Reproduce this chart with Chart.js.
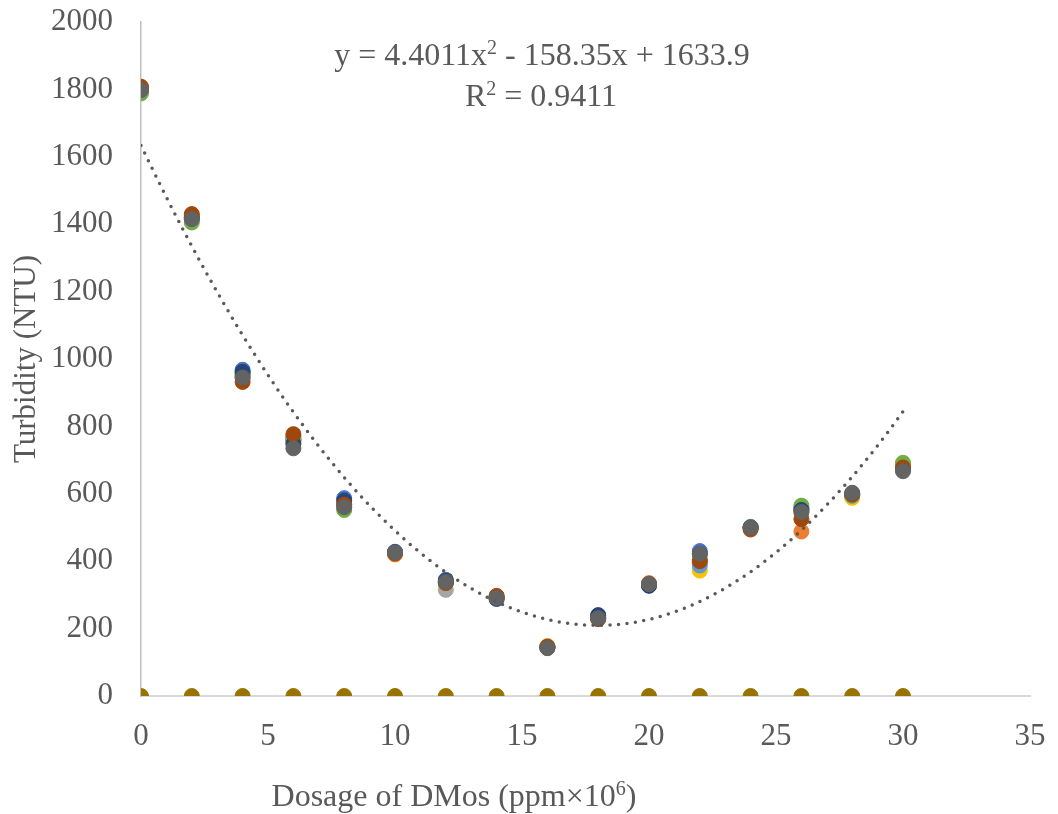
<!DOCTYPE html>
<html>
<head>
<meta charset="utf-8">
<title>Turbidity vs dosage</title>
<script src="https://cdn.jsdelivr.net/npm/chart.js@4.4.1/dist/chart.umd.min.js"></script>
<style>
    html, body { margin: 0; padding: 0; background: #fff; }
    canvas { display: block; }
</style>
</head>
<body>
<canvas id="turbidity-canvas" width="1058" height="814"></canvas>
<script>
// Dosage steps (ppm x 10^6) shared by every run.
const dosage = [0, 2, 4, 6, 8, 10, 12, 14, 16, 18, 20, 22, 24, 26, 28, 30];

// Turbidity readings (NTU), one array per run.
const run1 = [1800, 1420, 968, 765, 587, 428, 345, 292, 145, 238, 330, 430, 500, 555, 600, 680];
const run2 = [1805, 1425, 945, 770, 565, 420, 338, 296, 148, 232, 335, 400, 498, 488, 598, 685];
const run3 = [1798, 1415, 950, 760, 560, 425, 315, 290, 146, 230, 332, 395, 500, 550, 596, 675];
const run4 = [1795, 1418, 955, 755, 560, 424, 335, 292, 147, 232, 330, 372, 500, 545, 588, 690];
const run5 = [1797, 1416, 958, 762, 570, 426, 340, 291, 145, 236, 328, 387, 501, 558, 594, 680];
const run6 = [1788, 1405, 952, 758, 552, 425, 338, 293, 146, 233, 330, 405, 502, 565, 596, 692];
const run7 = [1800, 1420, 962, 748, 580, 427, 342, 288, 143, 240, 327, 422, 500, 552, 600, 672];
const run8 = [1808, 1430, 932, 777, 568, 423, 335, 297, 146, 228, 333, 400, 494, 525, 598, 678];
const run9 = [1798, 1415, 945, 735, 560, 426, 338, 291, 142, 231, 332, 422, 500, 546, 603, 667];
const run10 = [0, 0, 0, 0, 0, 0, 0, 0, 0, 0, 0, 0, 0, 0, 0, 0];

const runs = [run1, run2, run3, run4, run5, run6, run7, run8, run9, run10];
const runColors = ['#4472C4', '#ED7D31', '#A5A5A5', '#FFC000', '#5B9BD5',
                   '#70AD47', '#264478', '#9E480E', '#636363', '#997300'];

// Quadratic trendline coefficients [a, b, c] for y = a*x^2 + b*x + c.
const trendCoef = [4.4011, -158.35, 1633.9];
const trendR2 = 0.9411;

const xTicks = [0, 5, 10, 15, 20, 25, 30, 35];
const yTicks = [0, 200, 400, 600, 800, 1000, 1200, 1400, 1600, 1800, 2000];

const FONT = '"Liberation Serif", "Times New Roman", serif';
const TEXT = '#595959';

function trendPoints() {
    const pts = [];
    for (let x = dosage[0]; x <= dosage[dosage.length - 1] + 1e-9; x += 0.25) {
        pts.push({ x, y: trendCoef[0] * x * x + trendCoef[1] * x + trendCoef[2] });
    }
    return pts;
}

const datasets = runs.map((vals, i) => ({
    label: `run ${i + 1}`,
    data: dosage.map((x, j) => ({ x, y: vals[j] })),
    backgroundColor: runColors[i],
    borderColor: runColors[i],
    pointRadius: 7.5,
    pointBorderWidth: 1,
    showLine: false,
    // later runs paint over earlier ones
    order: runs.length - i + 1,
}));

datasets.push({
    type: 'line',
    label: 'trend',
    data: trendPoints(),
    borderColor: '#595959',
    borderWidth: 3.5,
    borderDash: [0, 8.5],
    borderCapStyle: 'round',
    pointRadius: 0,
    fill: false,
    tension: 0,
    order: 0,
});

// Text drawn with a raised, smaller digit after the main run.
function supText(ctx, parts, cx, cy, size) {
    const small = Math.round(size * 0.64);
    const widths = parts.map(([t, raised]) => {
        ctx.font = `${raised ? small : size}px ${FONT}`;
        return ctx.measureText(t).width;
    });
    let x = cx - widths.reduce((s, w) => s + w, 0) / 2;
    ctx.textAlign = 'left';
    parts.forEach(([t, raised], i) => {
        ctx.font = `${raised ? small : size}px ${FONT}`;
        ctx.fillText(t, x, raised ? cy - size * 0.27 : cy);
        x += widths[i];
    });
}

// Axis titles and the fitted-equation label.
const annotations = {
    id: 'annotations',
    afterDraw(chart) {
        const { ctx } = chart;
        ctx.save();
        ctx.fillStyle = TEXT;
        ctx.textBaseline = 'middle';

        const a = trendCoef[0].toFixed(4), b = Math.abs(trendCoef[1]).toFixed(2), c = trendCoef[2].toFixed(1);
        supText(ctx, [[`y = ${a}x`, false], ['2', true], [` - ${b}x + ${c}`, false]], 542, 57, 32);
        supText(ctx, [['R', false], ['2', true], [` = ${trendR2}`, false]], 541, 98, 32);

        supText(ctx, [['Dosage of DMos (ppm×10', false], ['6', true], [')', false]], 454, 798, 32);

        ctx.translate(27, 359);
        ctx.rotate(-Math.PI / 2);
        ctx.textAlign = 'center';
        ctx.font = `31px ${FONT}`;
        ctx.fillText('Turbidity (NTU)', 0, 0);
        ctx.restore();
    },
};

new Chart(document.getElementById('turbidity-canvas'), {
    type: 'scatter',
    data: { datasets },
    plugins: [annotations],
    options: {
        responsive: false,
        devicePixelRatio: 1,
        animation: false,
        layout: { padding: { left: 0, top: 22, right: 28, bottom: 0 } },
        plugins: { legend: { display: false }, tooltip: { enabled: false } },
        scales: {
            x: {
                type: 'linear',
                min: xTicks[0], max: xTicks[xTicks.length - 1],
                afterBuildTicks: s => { s.ticks = xTicks.map(v => ({ value: v })); },
                afterFit: s => { s.height = 118; s.paddingLeft = 0; s.paddingRight = 0; },
                grid: { display: false, drawTicks: false },
                border: { display: true, color: '#D9D9D9', width: 2 },
                ticks: { color: TEXT, padding: 22, font: { family: FONT, size: 31 }, callback: v => String(v) },
            },
            y: {
                type: 'linear',
                min: yTicks[0], max: yTicks[yTicks.length - 1],
                afterBuildTicks: s => { s.ticks = yTicks.map(v => ({ value: v })); },
                afterFit: s => { s.width = 141; s.paddingTop = 0; s.paddingBottom = 0; },
                grid: { display: false, drawTicks: false },
                border: { display: true, color: '#BFBFBF', width: 1.5 },
                ticks: { color: TEXT, padding: 28, font: { family: FONT, size: 31 }, callback: v => String(v) },
            },
        },
    },
});
</script>
</body>
</html>
